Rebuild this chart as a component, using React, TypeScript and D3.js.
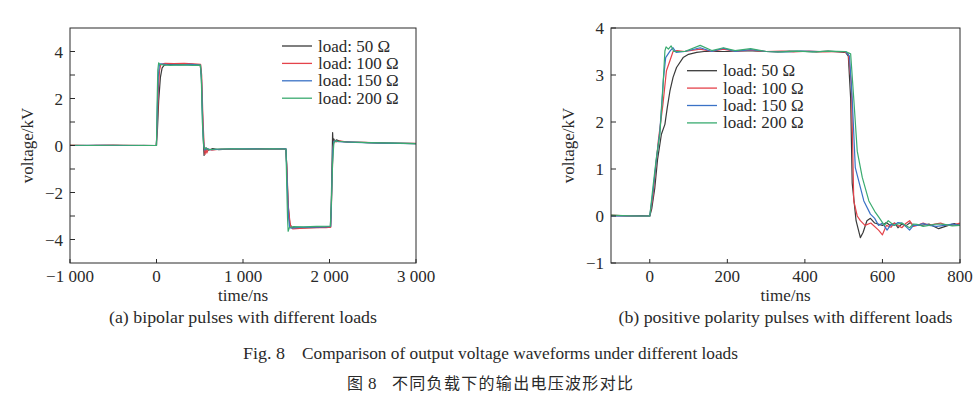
import React from 'react';
import * as d3 from 'd3';

type Pt = [number, number];

const loadLabels = ['load: 50 Ω', 'load: 100 Ω', 'load: 150 Ω', 'load: 200 Ω'];
const loadColors = ['#3a3a3a', '#e4434b', '#3a72c6', '#3aab70'];

// (a) bipolar pulses, [time ns, voltage kV]
const bipolar50: Pt[] = [
  [-1000, 0.0], [-700, 0.01], [-400, 0.0], [-150, 0.01], [-5, 0.0], [10, 0.6], [25, 1.9], [45, 2.9], [65, 3.3],
  [90, 3.42], [140, 3.46], [250, 3.44], [380, 3.45], [505, 3.43], [518, 3.0], [530, 1.6], [542, 0.2], [550, -0.42],
  [556, -0.1], [564, -0.3], [575, -0.12], [600, -0.2], [650, -0.13], [720, -0.18], [850, -0.15], [1000, -0.16],
  [1200, -0.14], [1350, -0.15], [1495, -0.14], [1505, -0.8], [1520, -2.4], [1540, -3.3], [1560, -3.48], [1620, -3.52],
  [1750, -3.5], [1900, -3.48], [2010, -3.47], [2020, -2.6], [2030, -0.6], [2036, 0.55], [2042, 0.0], [2050, 0.28],
  [2062, 0.18], [2080, 0.24], [2130, 0.17], [2250, 0.15], [2450, 0.12], [2700, 0.1], [3000, 0.08],
];
const bipolar100: Pt[] = [
  [-1000, 0.02], [-800, 0.0], [-500, 0.02], [-200, 0.0], [0, 0.01], [10, 1.0], [22, 2.4], [35, 3.2], [50, 3.45],
  [100, 3.5], [200, 3.48], [320, 3.5], [430, 3.47], [510, 3.45], [522, 3.0], [538, 1.0], [552, -0.05], [562, -0.38],
  [570, -0.1], [582, -0.32], [600, -0.15], [640, -0.2], [750, -0.15], [900, -0.17], [1100, -0.15], [1300, -0.16],
  [1495, -0.15], [1508, -1.0], [1525, -2.7], [1548, -3.4], [1575, -3.55], [1700, -3.52], [1850, -3.5], [1960, -3.5],
  [2015, -3.47], [2028, -1.8], [2040, -0.1], [2052, 0.2], [2075, 0.15], [2120, 0.2], [2200, 0.14], [2400, 0.13],
  [2650, 0.1], [3000, 0.09],
];
const bipolar150: Pt[] = [
  [-1000, 0.0], [-600, 0.01], [-300, 0.0], [0, 0.0], [8, 1.3], [20, 2.9], [32, 3.4], [45, 3.47], [120, 3.44],
  [260, 3.43], [400, 3.45], [508, 3.42], [520, 2.8], [535, 0.8], [548, -0.05], [560, -0.2], [580, -0.12], [620, -0.18],
  [800, -0.15], [1000, -0.14], [1250, -0.15], [1497, -0.14], [1510, -1.5], [1525, -3.0], [1540, -3.5], [1560, -3.52],
  [1650, -3.48], [1800, -3.47], [1950, -3.46], [2015, -3.44], [2025, -2.0], [2038, -0.2], [2050, 0.18], [2070, 0.2],
  [2100, 0.16], [2300, 0.13], [2600, 0.1], [3000, 0.08],
];
const bipolar200: Pt[] = [
  [-1000, 0.01], [-750, 0.0], [-450, 0.01], [-150, 0.0], [0, 0.0], [6, 1.6], [15, 3.2], [25, 3.52], [40, 3.45],
  [80, 3.43], [160, 3.41], [300, 3.43], [420, 3.41], [508, 3.42], [518, 2.9], [530, 1.0], [545, 0.0], [555, -0.15],
  [575, -0.1], [600, -0.18], [700, -0.15], [900, -0.14], [1150, -0.15], [1350, -0.14], [1497, -0.15], [1505, -1.6],
  [1515, -3.1], [1522, -3.65], [1535, -3.5], [1580, -3.45], [1700, -3.46], [1850, -3.44], [2010, -3.43], [2022, -2.4],
  [2035, -0.8], [2050, 0.1], [2065, 0.2], [2100, 0.18], [2200, 0.15], [2450, 0.12], [2750, 0.1], [3000, 0.08],
];

// (b) positive polarity pulses
const positive50: Pt[] = [
  [-100, 0.01], [-60, 0.0], [-20, 0.01], [0, 0.0], [5, 0.15], [13, 0.6], [20, 1.2], [30, 1.74], [39, 1.95], [45, 2.3],
  [52, 2.66], [60, 2.95], [69, 3.16], [86, 3.37], [100, 3.44], [121, 3.48], [140, 3.5], [160, 3.5], [200, 3.5],
  [250, 3.52], [300, 3.5], [330, 3.49], [360, 3.51], [400, 3.5], [430, 3.49], [460, 3.51], [505, 3.48], [512, 3.4],
  [518, 2.5], [522, 0.7], [532, -0.1], [543, -0.46], [550, -0.35], [560, -0.1], [569, -0.05], [580, -0.15],
  [600, -0.2], [610, -0.14], [620, -0.2], [632, -0.15], [640, -0.25], [650, -0.17], [660, -0.21], [672, -0.14],
  [680, -0.2], [700, -0.2], [720, -0.17], [745, -0.27], [770, -0.2], [785, -0.16], [800, -0.2],
];
const positive100: Pt[] = [
  [-100, 0.02], [-50, 0.0], [0, 0.0], [8, 0.4], [15, 1.0], [22, 1.6], [34, 2.38], [43, 3.09], [53, 3.33], [60, 3.5],
  [70, 3.52], [90, 3.5], [130, 3.55], [160, 3.5], [190, 3.55], [220, 3.5], [260, 3.53], [300, 3.5], [340, 3.51],
  [370, 3.49], [410, 3.51], [450, 3.49], [500, 3.5], [512, 3.45], [520, 2.8], [526, 0.32], [535, 0.0], [543, -0.1],
  [555, -0.2], [570, -0.15], [590, -0.3], [600, -0.4], [610, -0.2], [622, -0.24], [630, -0.15], [640, -0.2],
  [650, -0.25], [660, -0.16], [670, -0.1], [680, -0.22], [690, -0.2], [705, -0.15], [720, -0.2], [735, -0.17],
  [750, -0.15], [765, -0.2], [780, -0.2], [800, -0.15],
];
const positive150: Pt[] = [
  [-100, 0.0], [0, 0.0], [8, 0.5], [17, 1.2], [26, 1.8], [35, 2.9], [41, 3.37], [53, 3.52], [60, 3.58], [68, 3.48],
  [90, 3.5], [130, 3.58], [160, 3.5], [190, 3.57], [220, 3.5], [260, 3.54], [300, 3.5], [350, 3.49], [390, 3.51],
  [440, 3.5], [505, 3.5], [515, 3.4], [522, 2.5], [530, 1.03], [552, 0.32], [569, 0.04], [580, -0.05], [590, -0.2],
  [600, -0.15], [612, -0.3], [622, -0.18], [630, -0.2], [640, -0.14], [650, -0.15], [660, -0.22], [670, -0.3],
  [680, -0.2], [690, -0.2], [705, -0.16], [720, -0.2], [740, -0.22], [760, -0.2], [780, -0.17], [800, -0.2],
];
const positive200: Pt[] = [
  [-100, 0.02], [-40, 0.0], [0, 0.0], [8, 0.6], [17, 1.24], [26, 1.74], [33, 2.6], [39, 3.51], [42, 3.6], [48, 3.55],
  [55, 3.62], [62, 3.5], [90, 3.5], [130, 3.63], [160, 3.52], [190, 3.58], [220, 3.52], [260, 3.56], [300, 3.5],
  [340, 3.49], [380, 3.51], [420, 3.49], [460, 3.51], [505, 3.5], [518, 3.45], [526, 2.5], [535, 1.38], [548, 0.82],
  [565, 0.32], [580, 0.1], [591, -0.03], [605, -0.2], [615, -0.1], [630, -0.2], [640, -0.17], [650, -0.15],
  [660, -0.2], [670, -0.25], [680, -0.17], [690, -0.18], [705, -0.22], [720, -0.2], [740, -0.17], [760, -0.18],
  [780, -0.21], [800, -0.2],
];

const bipolarTimeTicks = [-1000, 0, 1000, 2000, 3000];
const bipolarVoltTicks = [-4, -3, -2, -1, 0, 1, 2, 3, 4];
const bipolarVoltLabels = [-4, -2, 0, 2, 4];
const positiveTimeTicks = [0, 200, 400, 600, 800];
const positiveVoltTicks = [-1, 0, 1, 2, 3, 4];
const positiveVoltLabels = [-1, 0, 1, 2, 3, 4];

const captionA = '(a) bipolar pulses with different loads';
const captionB = '(b) positive polarity pulses with different loads';

const serif = '"Liberation Serif", "Times New Roman", serif';
const ink = '#2a2a2a';
const fmt = d3.formatLocale({ decimal: '.', thousands: ' ', grouping: [3], currency: ['', ''] }).format(',');

type PanelProps = {
  id: string;
  x0: number; x1: number; y0: number; y1: number;
  xDomain: [number, number]; yDomain: [number, number];
  xTicks: number[]; yTicks: number[]; yLabels: number[];
  series: Pt[][];
  legendX: number; legendY: number;
  caption: string; captionLength: number;
};

function Panel(p: PanelProps) {
  const x = d3.scaleLinear().domain(p.xDomain).range([p.x0, p.x1]);
  const y = d3.scaleLinear().domain(p.yDomain).range([p.y1, p.y0]);
  const line = d3.line<Pt>().x(d => x(d[0])).y(d => y(d[1]));
  const cx = (p.x0 + p.x1) / 2;
  const cy = (p.y0 + p.y1) / 2;
  return (
    <g>
      <defs>
        <clipPath id={p.id}>
          <rect x={p.x0} y={p.y0} width={p.x1 - p.x0} height={p.y1 - p.y0} />
        </clipPath>
      </defs>
      <g clipPath={`url(#${p.id})`}>
        {p.series.map((s, i) => (
          <path key={i} d={line(s) ?? ''} fill="none" stroke={loadColors[i]} strokeWidth={1.2} strokeLinejoin="round" />
        ))}
      </g>
      <rect x={p.x0} y={p.y0} width={p.x1 - p.x0} height={p.y1 - p.y0} fill="none" stroke={ink} strokeWidth={1} />
      {p.xTicks.map(t => (
        <g key={'x' + t}>
          <line x1={x(t)} x2={x(t)} y1={p.y1} y2={p.y1 - 4} stroke={ink} />
          <text x={x(t)} y={p.y1 + 19} textAnchor="middle" fontSize={17} fontFamily={serif} fill={ink}>{fmt(t)}</text>
        </g>
      ))}
      {p.yTicks.map(t => (
        <line key={'y' + t} x1={p.x0} x2={p.x0 + 5} y1={y(t)} y2={y(t)} stroke={ink} />
      ))}
      {p.yLabels.map(t => (
        <text key={'yl' + t} x={p.x0 - 7} y={y(t) + 6} textAnchor="end" fontSize={17} fontFamily={serif} fill={ink}>{fmt(t)}</text>
      ))}
      <text x={cx} y={p.y1 + 38} textAnchor="middle" fontSize={17} fontFamily={serif} fill={ink}>time/ns</text>
      <text transform={`translate(${p.x0 - 37},${cy}) rotate(-90)`} textAnchor="middle" fontSize={17} fontFamily={serif} fill={ink}>voltage/kV</text>
      {loadLabels.map((l, i) => (
        <g key={l} transform={`translate(${p.legendX},${p.legendY + i * 17.4})`}>
          <line x1={0} x2={30} y1={0} y2={0} stroke={loadColors[i]} strokeWidth={1.3} />
          <text x={36} y={5.5} fontSize={17} fontFamily={serif} fill={ink}>{l}</text>
        </g>
      ))}
      <text x={cx} y={p.y1 + 60} textAnchor="middle" fontSize={17} fontFamily={serif} fill={ink}
        textLength={p.captionLength} lengthAdjust="spacingAndGlyphs">{p.caption}</text>
    </g>
  );
}

export default function App() {
  return (
    <svg width={980} height={398} style={{ position: 'absolute', left: 0, top: 0, background: '#fff' }}>
      <Panel id="clipA" x0={70} x1={416} y0={28} y1={263} xDomain={[-1000, 3000]} yDomain={[-5, 5]}
        xTicks={bipolarTimeTicks} yTicks={bipolarVoltTicks} yLabels={bipolarVoltLabels}
        series={[bipolar50, bipolar100, bipolar150, bipolar200]} legendX={282} legendY={46}
        caption={captionA} captionLength={268} />
      <Panel id="clipB" x0={611} x1={960} y0={28} y1={263} xDomain={[-100, 800]} yDomain={[-1, 4]}
        xTicks={positiveTimeTicks} yTicks={positiveVoltTicks} yLabels={positiveVoltLabels}
        series={[positive50, positive100, positive150, positive200]} legendX={687} legendY={70.7}
        caption={captionB} captionLength={334} />
      <text x={243} y={359} fontSize={17} fontFamily={serif} fill={ink} textLength={42} lengthAdjust="spacingAndGlyphs">Fig. 8</text>
      <text x={302} y={359} fontSize={17} fontFamily={serif} fill={ink} textLength={436} lengthAdjust="spacingAndGlyphs">
        Comparison of output voltage waveforms under different loads
      </text>
      <text x={347} y={389} fontSize={16} fontFamily='"Noto Sans CJK SC", sans-serif' fill={ink}>图</text>
      <text x={368} y={389} fontSize={17} fontFamily={serif} fill={ink}>8</text>
      <text x={392} y={389} fontSize={16} fontFamily='"Noto Sans CJK SC", sans-serif' fill={ink} textLength={241} lengthAdjust="spacing">
        不同负载下的输出电压波形对比
      </text>
    </svg>
  );
}
